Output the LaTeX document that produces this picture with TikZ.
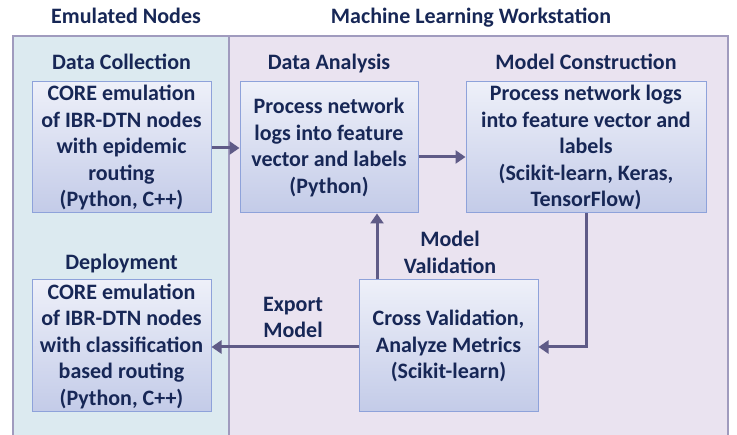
\documentclass[tikz,border=0pt]{standalone}
\usepackage{fontspec}
\setmainfont{Carlito}
\usetikzlibrary{arrows.meta}
\definecolor{txt}{HTML}{172756}
\definecolor{lpanel}{HTML}{DCEAF0}
\definecolor{rpanel}{HTML}{EAE3F0}
\definecolor{pborder}{HTML}{A09BBE}
\definecolor{btop}{HTML}{EEF0F9}
\definecolor{bbot}{HTML}{C3CBE8}
\definecolor{bborder}{HTML}{8EA2DA}
\definecolor{arr}{HTML}{5F5B87}
\begin{document}
\begin{tikzpicture}[x=1pt,y=-1pt,
  every node/.style={font=\bfseries\fontsize{22}{26.5}\selectfont, text=txt},
  procbox/.style={draw=bborder, line width=1pt, top color=btop, bottom color=bbot, middle color=btop!50!bbot, align=center, inner sep=0pt},
  lbl/.style={align=center, inner sep=0pt},
  hdr/.style={inner sep=0pt, anchor=base},
  flow/.style={draw=arr, line width=3pt, -{Triangle[length=10pt,width=13pt]}}]
\useasboundingbox (0,0) rectangle (737,435);
% panels
\fill[lpanel] (13,36) rectangle (229,437);
\fill[rpanel] (229,36) rectangle (728,437);
\draw[pborder, line width=1.5pt] (13,437) -- (13,36) -- (728,36) -- (728,437);
\draw[pborder, line width=1.5pt] (229,36) -- (229,437);
% titles
\node[hdr] (t1) at (126,24) {Emulated Nodes};
\node[hdr] (t2) at (471,24) {Machine Learning Workstation};
\node[hdr] (h1) at (121.5,70) {Data Collection};
\node[hdr] (h2) at (329,70) {Data Analysis};
\node[hdr] (h3) at (586,70) {Model Construction};
\node[hdr] (h4) at (121.5,270) {Deployment};
% boxes
\node[procbox, minimum width=179pt, minimum height=131pt] (b1) at (121.5,147.5)
  {CORE emulation\\of IBR-DTN nodes\\with epidemic\\routing\\(Python, C++)};
\node[procbox, minimum width=178pt, minimum height=131pt] (b2) at (329,147.5)
  {Process network\\logs into feature\\vector and labels\\(Python)};
\node[procbox, minimum width=240pt, minimum height=131pt] (b3) at (586,147.5)
  {Process network logs\\into feature vector and\\labels\\(Scikit-learn, Keras,\\TensorFlow)};
\node[procbox, minimum width=179pt, minimum height=132pt] (b4) at (121.5,346)
  {CORE emulation\\of IBR-DTN nodes\\with classification\\based routing\\(Python, C++)};
\node[procbox, minimum width=179pt, minimum height=132pt] (b5) at (448.5,346)
  {Cross Validation,\\Analyze Metrics\\(Scikit-learn)};
% labels on connectors
\node[lbl] (mv) at (450,252.5) {Model\\Validation};
\node[lbl] (em) at (293,317.5) {Export\\Model};
% connectors
\draw[flow] (b1.east |- 0,148) -- (b2.west |- 0,148);
\draw[flow] (b2.east |- 0,157) -- (b3.west |- 0,157);
\coordinate (c1) at (586,347);
\draw[flow] (b3.south) -- (c1) -- (b5.east |- c1);
\draw[flow] (b5.north -| 377,0) -- (b2.south -| 377,0);
\draw[flow] (b5.west |- 0,347) -- (b4.east |- 0,347);
\end{tikzpicture}
\end{document}
